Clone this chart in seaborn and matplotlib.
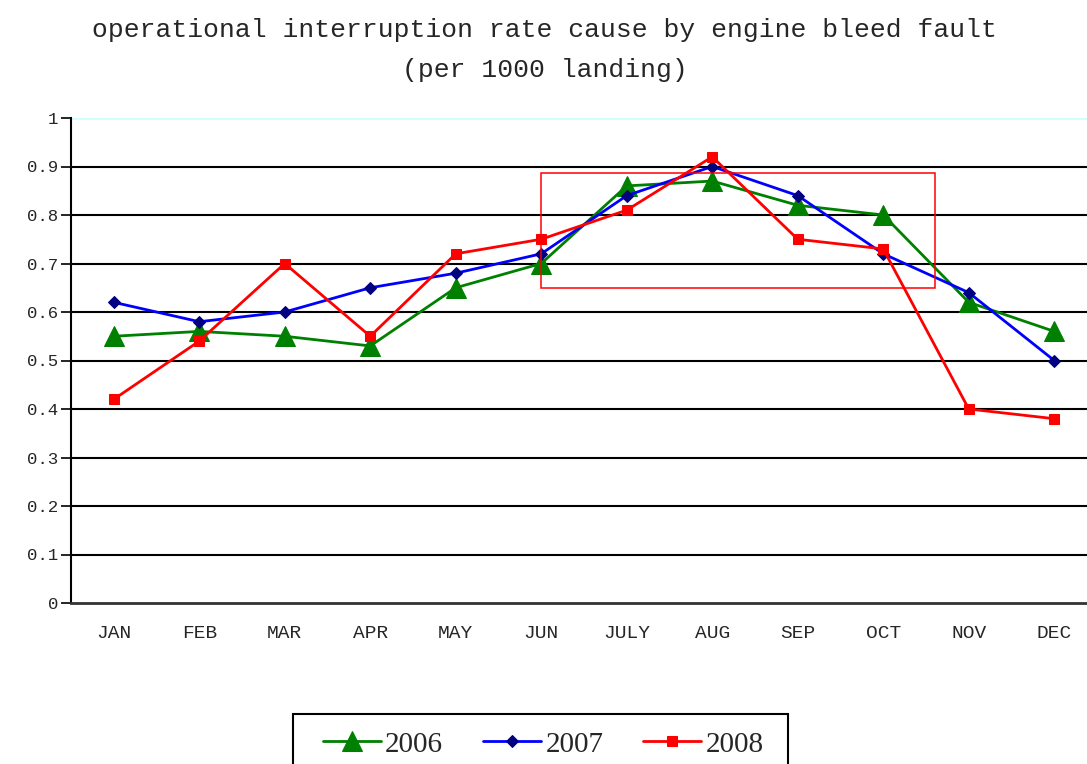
import pandas as pd
import matplotlib.pyplot as plt
import seaborn as sns
from matplotlib.patches import Rectangle

months = ['JAN', 'FEB', 'MAR', 'APR', 'MAY', 'JUN',
          'JULY', 'AUG', 'SEP', 'OCT', 'NOV', 'DEC']
rate_2006 = [0.55, 0.56, 0.55, 0.53, 0.65, 0.70, 0.86, 0.87, 0.82, 0.80, 0.62, 0.56]
rate_2007 = [0.62, 0.58, 0.60, 0.65, 0.68, 0.72, 0.84, 0.90, 0.84, 0.72, 0.64, 0.50]
rate_2008 = [0.42, 0.54, 0.70, 0.55, 0.72, 0.75, 0.81, 0.92, 0.75, 0.73, 0.40, 0.38]
years = ['2006', '2007', '2008']

# long-form table for seaborn
df = pd.DataFrame({
    'month': months * 3,
    'pos': list(range(len(months))) * 3,
    'rate': rate_2006 + rate_2007 + rate_2008,
    'year': [y for y in years for _ in months],
})

sns.set_style('white')
plt.rcParams['font.family'] = ['Liberation Mono', 'DejaVu Sans']

fig = plt.figure(figsize=(10.87, 7.64), dpi=100)
# plot area runs a little past the right edge, as in the original
ax = fig.add_axes([71 / 1087, 161 / 764, 1026 / 1087, 485 / 764])

styles = {
    '2006': dict(color='#008000', marker='^', markersize=14, markerfacecolor='#008000',
                 markeredgecolor='#008000'),
    '2007': dict(color='#0000FF', marker='D', markersize=6, markerfacecolor='#000080',
                 markeredgecolor='#000080'),
    '2008': dict(color='#FF0000', marker='s', markersize=7.5, markerfacecolor='#FF0000',
                 markeredgecolor='#FF0000'),
}
for year in years:
    sub = df[df['year'] == year]
    sns.lineplot(data=sub, x='pos', y='rate', ax=ax, sort=False, label=year,
                 linewidth=2, zorder=3, clip_on=False, **styles[year])

# highlighted period
ax.add_patch(Rectangle((5.0, 0.65), 4.6, 0.237, fill=False, edgecolor='red',
                       linewidth=1.1, zorder=4))

ax.set_xlim(-0.5, 11.5)
ax.set_ylim(0, 1)
ax.set_yticks([i / 10 for i in range(11)])
ax.set_yticklabels(['0'] + [f'{i / 10:.1f}' for i in range(1, 10)] + ['1'], fontsize=12.5)
ax.set_xticks(range(len(months)))
ax.set_xticklabels(months, fontsize=14)
ax.set_xticks([i + 0.5 for i in range(-1, 12)], minor=True)
ax.tick_params(axis='x', which='major', length=0, pad=16)
ax.tick_params(axis='x', which='minor', direction='inout', length=14, width=1.2, color='black')
ax.tick_params(axis='y', direction='out', length=7, width=1.2, color='black', pad=2, left=True)
ax.set_xlabel('')
ax.set_ylabel('')

# horizontal gridlines
for v in [i / 10 for i in range(1, 10)]:
    ax.axhline(v, color='black', linewidth=1.5, zorder=1)
ax.axhline(1.0, color='#CCFFFF', linewidth=2, zorder=1)

for side in ['top', 'right']:
    ax.spines[side].set_visible(False)
ax.spines['left'].set_color('black')
ax.spines['left'].set_linewidth(1.5)
ax.spines['bottom'].set_color('#333333')
ax.spines['bottom'].set_linewidth(2)

fig.text(0.501, 1 - 30 / 764, 'operational interruption rate cause by engine bleed fault',
         ha='center', va='center', fontsize=19)
fig.text(0.501, 1 - 70 / 764, '(per 1000 landing)', ha='center', va='center', fontsize=19)

ax.legend_.remove()
handles, labels = ax.get_legend_handles_labels()
leg = fig.legend(handles, labels, loc='upper center', bbox_to_anchor=(543 / 1087, 1 - 718 / 764),
                 ncol=3, frameon=False, borderaxespad=0,
                 prop={'family': 'Liberation Serif', 'size': 21}, handlelength=2.0,
                 handletextpad=0.15, columnspacing=1.35, borderpad=0.45)

# legend box, cut by the bottom edge like the original
fig.patches.append(Rectangle((293 / 1087, -0.02), 495 / 1087, 0.02 + 50 / 764,
                             transform=fig.transFigure, fill=False, edgecolor='black',
                             linewidth=1.5))

fig.savefig('out.png', dpi=100)
